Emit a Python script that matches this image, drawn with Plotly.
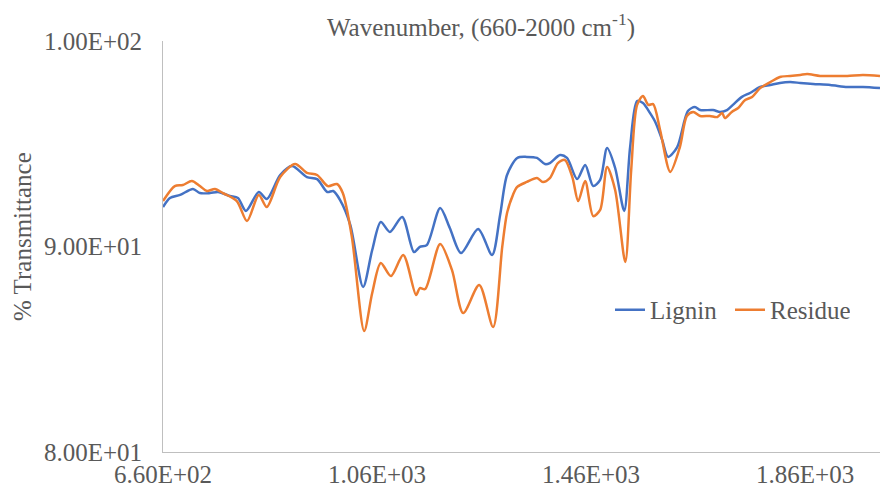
import plotly.graph_objects as go

# FTIR spectra, 660-2000 cm-1
lignin_wn = [660, 673, 692, 716, 729, 748, 763, 785, 800, 815, 839, 854, 879, 901, 929,
             948, 967, 978, 991, 1010, 1034, 1051, 1067, 1084, 1107, 1129, 1140, 1153,
             1178, 1196, 1217, 1249, 1275, 1290, 1303, 1322, 1340, 1359, 1374, 1383,
             1402, 1415, 1434, 1449, 1464, 1477, 1490, 1505, 1522, 1533, 1546, 1557,
             1570, 1580, 1593, 1604, 1621, 1641, 1654, 1664, 1688, 1701, 1714, 1725,
             1742, 1757, 1776, 1795, 1813, 1832, 1851, 1875, 1907, 1939, 1968, 2000]
lignin_t = [91.92, 92.36, 92.51, 92.80, 92.60, 92.60, 92.65, 92.46, 92.36, 91.73, 92.65,
            92.31, 93.48, 93.92, 93.38, 93.28, 92.65, 92.70, 92.26, 91.05, 88.03, 89.83,
            91.19, 90.71, 91.44, 89.73, 89.98, 90.07, 91.87, 90.90, 89.68, 90.85, 89.59,
            91.53, 93.48, 94.31, 94.36, 94.31, 94.01, 94.06, 94.45, 94.31, 93.28, 93.97,
            92.94, 93.24, 94.79, 93.82, 91.73, 94.84, 97.08, 96.98, 96.50, 96.06, 95.18,
            94.36, 94.84, 96.59, 96.79, 96.64, 96.64, 96.55, 96.64, 96.89, 97.28, 97.47,
            97.76, 97.86, 97.96, 98.00, 97.96, 97.91, 97.86, 97.76, 97.76, 97.71]

residue_wn = [660, 682, 697, 714, 729, 742, 757, 772, 798, 817, 839, 854, 879, 907, 929,
              948, 968, 985, 996, 1013, 1036, 1051, 1067, 1086, 1109, 1133, 1140, 1150,
              1178, 1200, 1221, 1251, 1277, 1294, 1303, 1314, 1322, 1340, 1359, 1370,
              1383, 1398, 1411, 1425, 1436, 1449, 1464, 1477, 1490, 1505, 1524, 1535,
              1546, 1557, 1567, 1576, 1589, 1608, 1626, 1639, 1651, 1664, 1682, 1696,
              1705, 1710, 1723, 1735, 1748, 1761, 1776, 1795, 1813, 1832, 1851, 1864,
              1888, 1912, 1939, 1968, 2000]
residue_t = [92.21, 92.94, 92.99, 93.19, 92.94, 92.70, 92.80, 92.60, 92.21, 91.24, 92.51,
             91.92, 93.38, 94.01, 93.58, 93.48, 92.94, 93.04, 92.60, 90.46, 85.89, 87.74,
             89.20, 88.56, 89.59, 87.64, 87.98, 87.93, 90.12, 88.86, 86.76, 88.13, 86.08,
             89.98, 91.63, 92.51, 92.90, 93.14, 93.33, 93.14, 93.33, 94.06, 94.21, 93.38,
             92.21, 93.19, 91.48, 91.78, 93.87, 92.75, 89.25, 93.72, 96.89, 97.32, 96.89,
             96.93, 95.67, 93.63, 94.84, 96.35, 96.55, 96.35, 96.35, 96.30, 96.50, 96.25,
             96.55, 96.74, 97.13, 97.28, 97.71, 98.00, 98.25, 98.30, 98.35, 98.39, 98.30,
             98.30, 98.30, 98.35, 98.30]

x_tick_vals = [660, 1060, 1460, 1860]
x_tick_text = ["6.60E+02", "1.06E+03", "1.46E+03", "1.86E+03"]
y_tick_vals = [80, 90, 100]
y_tick_text = ["8.00E+01", "9.00E+01", "1.00E+02"]

FONT = "Liberation Serif"
GREY = "#595959"
AXIS = "#BFBFBF"
TEXT = dict(family=FONT, size=25, color=GREY)

fig = go.Figure()
fig.add_trace(go.Scatter(x=lignin_wn, y=lignin_t, mode="lines", name="Lignin",
                         line=dict(color="#4472C4", width=2.5, shape="spline", smoothing=0.8)))
fig.add_trace(go.Scatter(x=residue_wn, y=residue_t, mode="lines", name="Residue",
                         line=dict(color="#ED7D31", width=2.5, shape="spline", smoothing=0.8)))

fig.update_layout(
    width=881, height=494,
    margin=dict(l=163, r=1, t=41, b=42),
    paper_bgcolor="white", plot_bgcolor="white",
    font=TEXT,
    title=dict(text="Wavenumber, (660-2000 cm<sup>-1</sup>)", x=0.4435, xref="paper",
               xanchor="center", y=(494 - 27) / 494, yanchor="middle", font=TEXT),
    showlegend=True,
    legend=dict(orientation="h", x=0.6234, xanchor="left", y=0.3455, yanchor="middle",
                entrywidth=75, bgcolor="rgba(0,0,0,0)", font=TEXT),
    xaxis=dict(range=[660, 2000], tickvals=x_tick_vals, ticktext=x_tick_text,
               showgrid=False, zeroline=False, showline=True, linecolor=AXIS, linewidth=1,
               ticks="", ticklabelstandoff=0, tickfont=TEXT),
    yaxis=dict(range=[80, 100], tickvals=y_tick_vals, ticktext=y_tick_text,
               showgrid=False, zeroline=False, showline=True, linecolor=AXIS, linewidth=1,
               ticks="", ticklabelstandoff=15, tickfont=TEXT),
    annotations=[dict(text="% Transmittance", textangle=-90, xref="paper", yref="paper",
                      x=(22 - 163) / 717, y=(452 - 237) / 411, xanchor="center",
                      yanchor="middle", showarrow=False, font=TEXT)],
)

fig.write_html("out.html")
